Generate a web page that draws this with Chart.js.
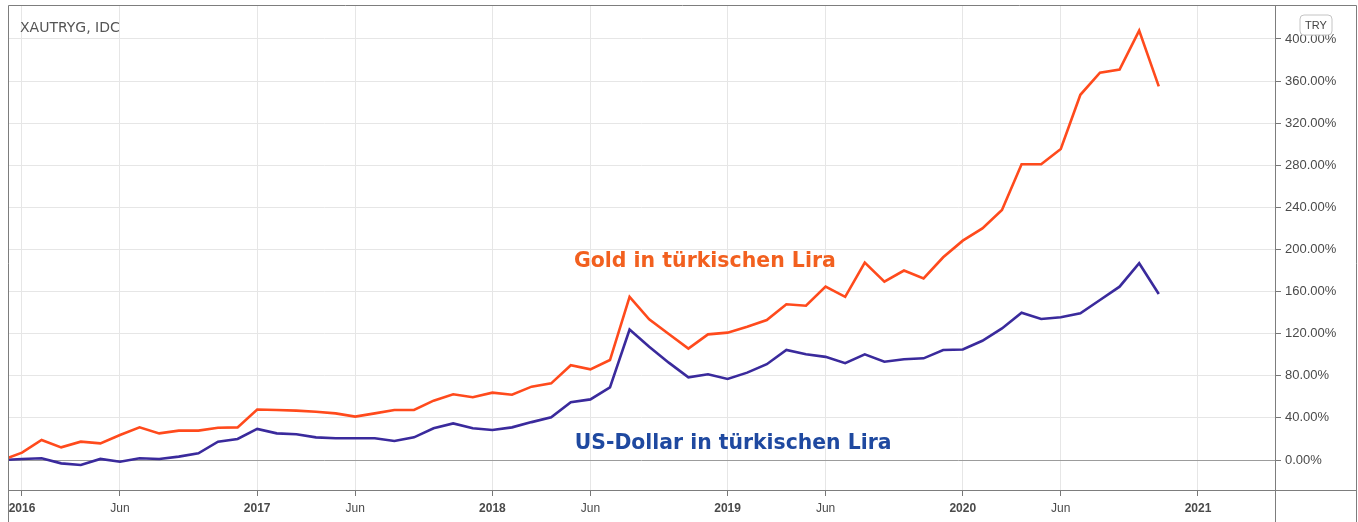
<!DOCTYPE html>
<html><head><meta charset="utf-8">
<script src="https://cdn.jsdelivr.net/npm/chart.js@4.4.1/dist/chart.umd.min.js"></script>
<style>html,body{margin:0;padding:0;background:#fff;} #wrap{width:1358px;height:522px;position:relative;}</style>
</head><body><div id="wrap"><canvas id="c" width="1358" height="522"></canvas></div>
<script>
// month index: 0 = Jan 2016
const months = [-1,0,1,2,3,4,5,6,7,8,9,10,11,12,13,14,15,16,17,18,19,20,21,22,23,24,25,26,27,28,29,30,31,32,33,34,35,36,37,38,39,40,41,42,43,44,45,46,47,48,49,50,51,52,53,54,55,56,57,58];
const goldTRY = [0,7,19,12,17.4,15.8,23.8,31,25.3,27.9,27.9,30.7,31,48,47.5,46.9,45.9,44.3,41.2,44.3,47.5,47.5,56.4,62.4,59.6,64,62,69.7,72.8,90,86.1,95,155,133.7,119.7,105.8,119.4,121,126.7,133,148,146.6,164.7,155,187.5,169.4,180,172.6,192.6,208.4,220,237.5,281,281,295.5,347,368,371,408,355];
const usdTRY = [0,1,1.6,-3.2,-4.8,1,-1.6,1.6,1,3.2,6.3,17.4,20,29.5,25.3,24.4,21.5,20.6,20.6,20.6,18,21.5,30.1,34.8,30.1,28.5,31,36,40.5,55,57.6,69,124,107.7,92.5,78.5,81.4,77,83,91,104.5,100.4,98,92,100.4,93.4,95.7,96.6,104.5,105,113.3,125,140,134,135.6,139.4,152,164.7,187,157.7];
const tickMonths = [0,5,12,17,24,29,36,41,48,53,60];
const tickLabels = ['2016','Jun','2017','Jun','2018','Jun','2019','Jun','2020','Jun','2021'];
const yearTicks = [0,12,24,36,48,60];
const yTicks = [0,40,80,120,160,200,240,280,320,360,400];
const titleText = 'XAUTRYG, IDC';
const currencyText = 'TRY';
const goldLabel = 'Gold in türkischen Lira';
const usdLabel = 'US-Dollar in türkischen Lira';
const goldLabelPos = {x: 28.16, y: 183.4};
const usdLabelPos = {x: 28.2, y: 10.5};

const framePlugin = {
  id: 'frame',
  afterDraw(chart) {
    const ctx = chart.ctx;
    ctx.save();
    ctx.strokeStyle = '#7d7d7d';
    ctx.lineWidth = 1;
    ctx.beginPath();
    ctx.moveTo(8.5, 522); ctx.lineTo(8.5, 5.5); ctx.lineTo(1356.5, 5.5); ctx.lineTo(1356.5, 522);
    ctx.moveTo(8, 490.5); ctx.lineTo(1357, 490.5);
    ctx.moveTo(1275.5, 5); ctx.lineTo(1275.5, 522);
    ctx.stroke();
    // title
    ctx.fillStyle = '#555';
    ctx.font = '14px "DejaVu Sans"';
    ctx.textBaseline = 'alphabetic';
    ctx.textAlign = 'left';
    ctx.fillText(titleText, 20, 32);
    // currency box
    const bx = 1300, by = 15, bw = 32, bh = 20, r = 4;
    ctx.beginPath();
    ctx.moveTo(bx + r, by); ctx.lineTo(bx + bw - r, by); ctx.quadraticCurveTo(bx + bw, by, bx + bw, by + r);
    ctx.lineTo(bx + bw, by + bh - r); ctx.quadraticCurveTo(bx + bw, by + bh, bx + bw - r, by + bh);
    ctx.lineTo(bx + r, by + bh); ctx.quadraticCurveTo(bx, by + bh, bx, by + bh - r);
    ctx.lineTo(bx, by + r); ctx.quadraticCurveTo(bx, by, bx + r, by);
    ctx.fillStyle = '#fff'; ctx.fill();
    ctx.strokeStyle = '#c4c4c4'; ctx.stroke();
    ctx.fillStyle = '#444';
    ctx.font = '11px "Liberation Sans"';
    ctx.textAlign = 'center'; ctx.textBaseline = 'middle';
    ctx.fillText(currencyText, bx + bw / 2, by + bh / 2 + 1);
    // annotations
    const xs = chart.scales.x, ys = chart.scales.y;
    function fitText(txt, targetW, color, pos) {
      ctx.font = 'bold 20px "DejaVu Sans"';
      const w = ctx.measureText(txt).width;
      const size = 20 * targetW / w;
      ctx.font = 'bold ' + size.toFixed(2) + 'px "DejaVu Sans"';
      ctx.fillStyle = color;
      ctx.textAlign = 'left'; ctx.textBaseline = 'alphabetic';
      ctx.fillText(txt, xs.getPixelForValue(pos.x), ys.getPixelForValue(pos.y));
    }
    fitText(goldLabel, 262, '#f2601f', goldLabelPos);
    fitText(usdLabel, 317, '#1f49a0', usdLabelPos);
    ctx.restore();
  }
};

new Chart(document.getElementById('c'), {
  type: 'line',
  data: {
    datasets: [
      {label: goldLabel, data: months.map((m, i) => ({x: m, y: goldTRY[i]})), borderColor: '#ff4a1c', borderWidth: 2.6, pointRadius: 0, tension: 0},
      {label: usdLabel, data: months.map((m, i) => ({x: m, y: usdTRY[i]})), borderColor: '#3a2a9c', borderWidth: 2.6, pointRadius: 0, tension: 0}
    ]
  },
  options: {
    responsive: false, animation: false, devicePixelRatio: 1,
    layout: {padding: {left: 8, top: 5, right: 0, bottom: 0}},
    plugins: {legend: {display: false}, tooltip: {enabled: false}},
    scales: {
      x: {
        type: 'linear', min: -0.714, max: 63.93, position: 'bottom',
        afterBuildTicks: a => { a.ticks = tickMonths.map(v => ({value: v})); },
        afterFit: a => { a.height = 32; a.paddingLeft = 0; a.paddingRight = 0; },
        ticks: {
          autoSkip: false, maxRotation: 0, padding: 5, color: '#4a4a4a',
          font: c => ({family: 'Liberation Sans', size: 12, weight: (c.tick && yearTicks.includes(c.tick.value)) ? 'bold' : 'normal'}),
          callback: v => tickLabels[tickMonths.indexOf(v)]
        },
        grid: {color: '#e6e6e6', tickLength: 6, tickColor: '#777'},
        border: {display: true, color: '#7d7d7d'}
      },
      y: {
        position: 'right', min: -28.5, max: 432.3,
        afterBuildTicks: a => { a.ticks = yTicks.map(v => ({value: v})); },
        afterFit: a => { a.width = 83; a.paddingTop = 0; a.paddingBottom = 0; },
        ticks: {color: '#4a4a4a', padding: 4, font: {family: 'Liberation Sans', size: 13}, callback: v => v.toFixed(2) + '%'},
        grid: {color: c => (c.tick && c.tick.value === 0) ? '#9c9c9c' : '#e6e6e6', tickLength: 6, tickColor: '#777'},
        border: {display: true, color: '#7d7d7d'}
      }
    }
  },
  plugins: [framePlugin]
});
</script>
</body></html>
